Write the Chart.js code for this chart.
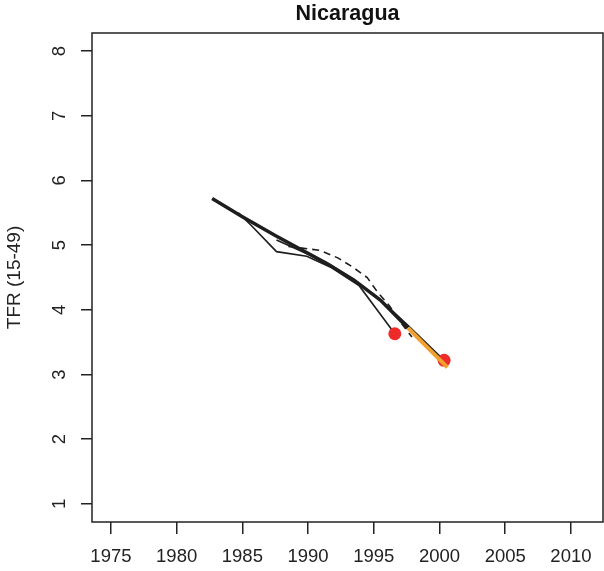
<!DOCTYPE html>
<html>
<head>
<meta charset="utf-8">
<script src="https://cdn.jsdelivr.net/npm/chart.js@4/dist/chart.umd.min.js"></script>
<style>
  html, body { margin: 0; padding: 0; background: #fff; }
  #wrap { width: 604px; height: 571px; }
</style>
</head>
<body>
<div id="wrap"><canvas id="myChart" width="604" height="571"></canvas></div>
<script>
// tick labels
var xTicks = [1975, 1980, 1985, 1990, 1995, 2000, 2005, 2010];
var yTicks = [1, 2, 3, 4, 5, 6, 7, 8];

// thick black estimate
var mainYears = [1982.7, 1985, 1987.5, 1989.5, 1991.5, 1993.5, 1995.5, 1997.6];
var mainTfr = [5.72, 5.44, 5.15, 4.93, 4.71, 4.46, 4.15, 3.72];

// thin line with the kink, ends at first red point
var serie1Years = [1984.7, 1985.7, 1987.6, 1989.9, 1991.8, 1993.9, 1996.6];
var serie1Tfr = [5.5, 5.3, 4.9, 4.83, 4.65, 4.37, 3.63];

// thin line ending at second red point
var serie2Years = [1987.6, 1990, 1992, 1994.2, 1996, 1997.6, 2000.35];
var serie2Tfr = [5.08, 4.86, 4.64, 4.36, 4.06, 3.76, 3.22];

// dashed line
var dashYears = [1988.5, 1990.9, 1992.3, 1993.4, 1994.5, 1995.3, 1996.2, 1997, 1997.9];
var dashTfr = [4.98, 4.92, 4.8, 4.66, 4.5, 4.27, 4.06, 3.82, 3.58];

// orange segment
var orangeYears = [1997.6, 2000.6];
var orangeTfr = [3.72, 3.11];

// red points
var pointYears = [1996.6, 2000.35];
var pointTfr = [3.63, 3.22];

function toXY(xs, ys) {
  return xs.map(function(x, i) { return { x: x, y: ys[i] }; });
}

// box around the plot area
var boxPlugin = {
  id: 'box',
  afterDraw: function(chart) {
    var a = chart.chartArea;
    var ctx = chart.ctx;
    ctx.save();
    ctx.strokeStyle = '#222';
    ctx.lineWidth = 1.5;
    ctx.strokeRect(a.left, a.top, a.right - a.left, a.bottom - a.top);
    ctx.restore();
  }
};

var font = "'Liberation Sans', Arial, sans-serif";

var ctx = document.getElementById('myChart').getContext('2d');
var chart = new Chart(ctx, {
  type: 'line',
  data: {
    datasets: [{
      data: toXY(orangeYears, orangeTfr),
      borderColor: '#F2A12E',
      borderWidth: 4,
      pointRadius: 0
    }, {
      data: toXY(pointYears, pointTfr),
      showLine: false,
      pointRadius: 6.5,
      pointBackgroundColor: '#EE2B2B',
      pointBorderWidth: 0
    }, {
      data: toXY(mainYears, mainTfr),
      borderColor: '#1e1e1e',
      borderWidth: 3.5,
      pointRadius: 0
    }, {
      data: toXY(serie1Years, serie1Tfr),
      borderColor: '#1e1e1e',
      borderWidth: 1.6,
      pointRadius: 0
    }, {
      data: toXY(serie2Years, serie2Tfr),
      borderColor: '#1e1e1e',
      borderWidth: 1.6,
      pointRadius: 0
    }, {
      data: toXY(dashYears, dashTfr),
      borderColor: '#1e1e1e',
      borderWidth: 1.6,
      borderDash: [7, 5],
      pointRadius: 0
    }]
  },
  options: {
    responsive: false,
    animation: false,
    layout: { autoPadding: false, padding: { left: 0, right: 1, top: 0, bottom: 0 } },
    plugins: {
      legend: { display: false },
      tooltip: { enabled: false },
      title: {
        display: true,
        text: 'Nicaragua',
        fullSize: false,
        color: '#111',
        font: { family: font, size: 21.5, weight: 'bold' },
        padding: { top: 1, bottom: 6.2 }
      }
    },
    scales: {
      x: {
        type: 'linear',
        min: 1973.56,
        max: 2012.44,
        afterBuildTicks: function(axis) {
          axis.ticks = xTicks.map(function(v) { return { value: v }; });
        },
        afterFit: function(axis) {
          axis.height = 49;
          axis.paddingLeft = 0;
          axis.paddingRight = 0;
        },
        border: { display: false },
        grid: { drawOnChartArea: false, drawTicks: true, tickLength: 12, color: '#222', lineWidth: 1.5 },
        ticks: {
          color: '#222',
          font: { family: font, size: 18.5 },
          padding: 12,
          maxRotation: 0,
          callback: function(v) { return String(v); }
        }
      },
      y: {
        type: 'linear',
        min: 0.72,
        max: 8.28,
        afterBuildTicks: function(axis) {
          axis.ticks = yTicks.map(function(v) { return { value: v }; });
        },
        afterFit: function(axis) {
          axis.width = 92;
          axis.paddingTop = 0;
          axis.paddingBottom = 0;
        },
        border: { display: false },
        grid: { drawOnChartArea: false, drawTicks: true, tickLength: 11, color: '#222', lineWidth: 1.5 },
        ticks: {
          color: '#222',
          font: { family: font, size: 18.5 },
          padding: 16,
          minRotation: 90,
          maxRotation: 90,
          crossAlign: 'center',
          callback: function(v) { return String(v); }
        },
        title: {
          display: true,
          text: 'TFR (15-49)',
          color: '#222',
          font: { family: font, size: 19 },
          padding: { top: 3, bottom: 4 }
        }
      }
    }
  },
  plugins: [boxPlugin]
});
</script>
</body>
</html>
